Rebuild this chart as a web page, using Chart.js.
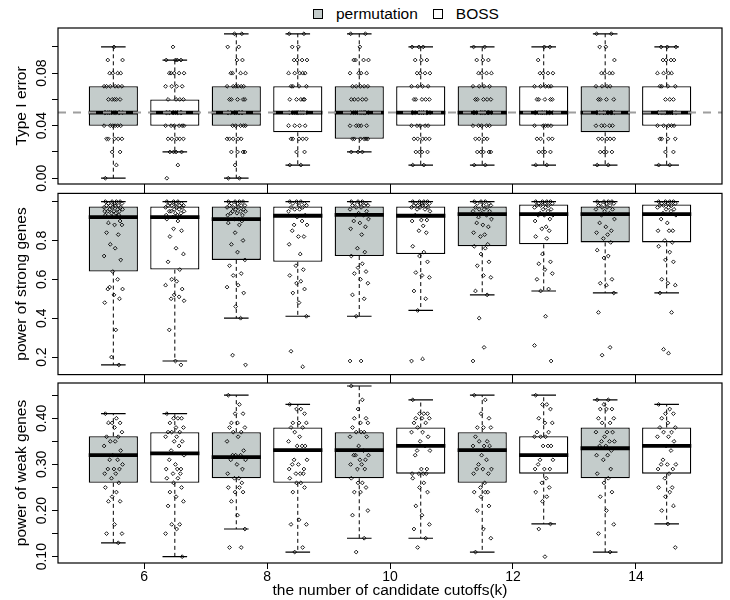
<!DOCTYPE html>
<html>
<head>
<meta charset="utf-8">
<script src="https://cdn.jsdelivr.net/npm/chart.js@4.4.1/dist/chart.umd.min.js"></script>
<style>
  body { margin: 0; background: #fff; }
  #wrap { position: relative; width: 730px; height: 600px; font-family: "Liberation Sans", Arial, sans-serif; }
  #wrap canvas { position: absolute; left: 0; }
  #legend { position: absolute; top: 5px; left: 313px; display: flex; align-items: center; font-size: 15.5px; line-height: 18px; color: #000; }
  #legend .item { display: flex; align-items: center; margin-right: 15px; }
  #legend .sw { width: 8px; height: 8px; border: 1px solid #000; margin-right: 13px; }
</style>
</head>
<body>
<div id="wrap">
  <div id="legend"></div>
  <canvas id="c1" width="730" height="192" style="top:0"></canvas>
  <canvas id="c2" width="730" height="198" style="top:185px"></canvas>
  <canvas id="c3" width="730" height="223" style="top:377px"></canvas>
</div>
<script>
// candidate cutoffs and the two methods (permutation box left of k, BOSS right of k)
const kValues = [6, 8, 10, 12, 14];
const methods = ['permutation', 'BOSS'];
const xTicks = [6, 8, 10, 12, 14];
const xLabels = ['6', '8', '10', '12', '14'];

// box stats per k: [lower whisker, q1, median, q3, upper whisker]
const type1Perm = [[0.00,0.04,0.05,0.07,0.10],[0.00,0.04,0.05,0.07,0.11],[0.02,0.03,0.05,0.07,0.11],[0.01,0.04,0.05,0.07,0.10],[0.01,0.035,0.05,0.07,0.11]];
const type1Boss = [[0.02,0.04,0.05,0.06,0.09],[0.01,0.035,0.05,0.07,0.11],[0.01,0.04,0.05,0.07,0.10],[0.01,0.04,0.05,0.07,0.10],[0.01,0.04,0.05,0.07,0.10]];
// type I error only takes values 0.00..0.11, so points are kept as counts per level
const type1Levels = [0.00,0.01,0.02,0.03,0.04,0.05,0.06,0.07,0.08,0.09,0.10,0.11];
const type1PermCounts = [
  [1,1,2,5,6,10,5,6,4,2,1,0],
  [2,1,4,5,5,10,5,6,4,2,2,2],
  [0,0,3,6,5,10,5,5,4,4,1,2],
  [0,2,5,4,5,12,5,4,4,3,2,0],
  [0,2,4,5,5,12,4,4,4,1,2,2]
];
const type1BossCounts = [
  [1,1,4,5,6,12,4,4,5,4,1,0],
  [0,2,2,5,4,10,5,4,5,4,2,2],
  [0,2,4,5,5,12,5,4,4,3,3,0],
  [0,2,4,4,5,12,5,5,4,1,2,0],
  [0,2,2,4,5,12,3,4,4,4,3,0]
];
const nominalLevel = 0.05;

const strongPerm = [[0.16,0.64,0.92,0.975,1.0],[0.40,0.70,0.91,0.975,1.0],[0.41,0.72,0.932,0.975,1.0],[0.52,0.77,0.935,0.975,1.0],[0.53,0.79,0.935,0.975,1.0]];
const strongBoss = [[0.18,0.65,0.92,0.975,1.0],[0.41,0.69,0.927,0.975,1.0],[0.44,0.73,0.927,0.975,1.0],[0.54,0.78,0.935,0.985,1.0],[0.53,0.79,0.935,0.985,1.0]];
const strongPermPts = [
  [1,1,1,1,0.99,0.99,0.99,0.98,0.98,0.98,0.98,0.97,0.97,0.97,0.96,0.96,0.96,0.95,0.95,0.95,0.95,0.94,0.94,0.93,0.93,0.92,0.92,0.90,0.89,0.88,0.88,0.84,0.83,0.78,0.76,0.72,0.70,0.64,0.60,0.56,0.55,0.55,0.52,0.50,0.48,0.34,0.20,0.16],
  [1,1,1,1,0.99,0.99,0.98,0.98,0.98,0.97,0.97,0.97,0.96,0.96,0.95,0.95,0.95,0.94,0.94,0.93,0.93,0.91,0.91,0.90,0.89,0.88,0.84,0.80,0.78,0.74,0.70,0.67,0.63,0.62,0.57,0.56,0.53,0.46,0.40,0.21,0.16],
  [1,1,1,0.99,0.99,0.99,0.98,0.98,0.98,0.97,0.97,0.96,0.95,0.94,0.93,0.93,0.91,0.90,0.89,0.87,0.86,0.83,0.76,0.74,0.72,0.68,0.66,0.64,0.63,0.60,0.58,0.52,0.50,0.41,0.18,0.18],
  [1,1,1,0.99,0.99,0.98,0.98,0.97,0.97,0.96,0.96,0.95,0.95,0.94,0.93,0.92,0.91,0.89,0.88,0.87,0.84,0.83,0.82,0.78,0.77,0.76,0.73,0.69,0.67,0.62,0.61,0.54,0.52,0.40,0.25,0.18],
  [1,1,1,1,0.99,0.99,0.99,0.98,0.98,0.97,0.97,0.96,0.96,0.95,0.94,0.93,0.91,0.89,0.87,0.85,0.84,0.83,0.81,0.79,0.75,0.72,0.71,0.60,0.58,0.57,0.53,0.43,0.25,0.21]
];
const strongBossPts = [
  [1,1,1,0.99,0.99,0.99,0.98,0.98,0.98,0.98,0.97,0.97,0.97,0.96,0.96,0.95,0.95,0.95,0.94,0.94,0.93,0.93,0.92,0.92,0.91,0.90,0.86,0.85,0.82,0.76,0.73,0.69,0.65,0.60,0.59,0.57,0.55,0.52,0.51,0.50,0.49,0.34,0.18,0.16],
  [1,1,1,0.99,0.99,0.98,0.98,0.97,0.97,0.96,0.96,0.95,0.93,0.92,0.90,0.88,0.88,0.85,0.82,0.82,0.78,0.73,0.67,0.65,0.62,0.59,0.58,0.55,0.53,0.48,0.41,0.23,0.15],
  [1,1,1,1,0.99,0.99,0.99,0.98,0.98,0.98,0.98,0.97,0.97,0.97,0.96,0.96,0.95,0.93,0.905,0.905,0.90,0.875,0.85,0.84,0.77,0.74,0.72,0.69,0.635,0.62,0.61,0.54,0.50,0.44,0.19,0.18],
  [1,1,1,1,0.99,0.99,0.99,0.98,0.98,0.98,0.97,0.97,0.96,0.96,0.95,0.94,0.93,0.93,0.93,0.91,0.90,0.87,0.86,0.85,0.82,0.81,0.73,0.69,0.68,0.65,0.63,0.60,0.55,0.54,0.41,0.26,0.18],
  [1,1,1,1,0.99,0.99,0.99,0.98,0.98,0.98,0.97,0.97,0.96,0.96,0.95,0.94,0.93,0.91,0.89,0.85,0.85,0.85,0.80,0.79,0.77,0.74,0.70,0.69,0.60,0.58,0.57,0.53,0.43,0.24,0.22]
];

const weakPerm = [[0.13,0.26,0.32,0.361,0.41],[0.16,0.27,0.316,0.37,0.45],[0.14,0.27,0.331,0.37,0.47],[0.11,0.26,0.331,0.37,0.45],[0.11,0.27,0.335,0.38,0.44]];
const weakBoss = [[0.10,0.26,0.324,0.37,0.41],[0.11,0.26,0.331,0.38,0.43],[0.14,0.28,0.34,0.38,0.44],[0.171,0.28,0.32,0.361,0.45],[0.171,0.28,0.34,0.38,0.43]];
const weakPermPts = [
  [0.41,0.40,0.39,0.39,0.39,0.38,0.37,0.36,0.36,0.35,0.35,0.34,0.33,0.32,0.31,0.31,0.30,0.29,0.29,0.29,0.28,0.28,0.27,0.26,0.25,0.24,0.23,0.22,0.22,0.17,0.15,0.15,0.13],
  [0.45,0.43,0.41,0.41,0.39,0.39,0.38,0.38,0.37,0.37,0.36,0.35,0.33,0.32,0.32,0.32,0.31,0.31,0.30,0.29,0.28,0.27,0.27,0.26,0.25,0.25,0.24,0.24,0.22,0.19,0.16,0.12,0.12],
  [0.47,0.44,0.42,0.40,0.40,0.39,0.39,0.38,0.37,0.37,0.37,0.36,0.36,0.34,0.33,0.32,0.32,0.32,0.31,0.31,0.30,0.30,0.29,0.29,0.27,0.26,0.26,0.25,0.24,0.24,0.20,0.19,0.14,0.11],
  [0.45,0.44,0.41,0.40,0.38,0.38,0.38,0.36,0.35,0.35,0.34,0.34,0.34,0.32,0.31,0.30,0.29,0.29,0.29,0.28,0.28,0.26,0.25,0.24,0.24,0.24,0.23,0.21,0.20,0.16,0.14,0.11],
  [0.44,0.44,0.43,0.42,0.42,0.42,0.40,0.40,0.39,0.39,0.37,0.37,0.37,0.36,0.35,0.35,0.35,0.34,0.34,0.33,0.32,0.32,0.31,0.29,0.28,0.27,0.26,0.24,0.23,0.20,0.17,0.15,0.11]
];
const weakBossPts = [
  [0.41,0.40,0.40,0.40,0.39,0.38,0.38,0.37,0.37,0.37,0.36,0.36,0.35,0.35,0.34,0.33,0.32,0.31,0.30,0.29,0.29,0.29,0.28,0.28,0.27,0.27,0.26,0.25,0.24,0.23,0.22,0.21,0.17,0.17,0.16,0.15,0.10],
  [0.43,0.42,0.42,0.41,0.39,0.39,0.39,0.38,0.38,0.37,0.36,0.35,0.34,0.34,0.34,0.31,0.31,0.30,0.30,0.29,0.29,0.28,0.28,0.28,0.27,0.26,0.26,0.25,0.24,0.18,0.17,0.17,0.12,0.11],
  [0.44,0.41,0.41,0.41,0.40,0.40,0.40,0.39,0.39,0.38,0.37,0.37,0.36,0.35,0.34,0.33,0.33,0.32,0.29,0.29,0.28,0.28,0.28,0.28,0.27,0.26,0.25,0.24,0.21,0.19,0.17,0.16,0.14,0.12],
  [0.45,0.43,0.43,0.42,0.40,0.39,0.39,0.37,0.37,0.36,0.36,0.36,0.34,0.34,0.34,0.31,0.31,0.30,0.29,0.29,0.29,0.27,0.26,0.25,0.24,0.23,0.22,0.171,0.16,0.10],
  [0.43,0.42,0.41,0.41,0.40,0.39,0.38,0.38,0.37,0.37,0.36,0.36,0.35,0.34,0.33,0.31,0.30,0.30,0.30,0.29,0.29,0.28,0.27,0.25,0.25,0.24,0.23,0.21,0.20,0.171,0.12]
];

// axis ranges and ticks
const xMin = 4.6, xMax = 15.4;
const type1Range = [-0.0044, 0.1144];
const type1Ticks = [0, 0.02, 0.04, 0.06, 0.08, 0.10];
const type1Labels = ['0.00', '', '0.04', '', '0.08', ''];
const strongRange = [0.11, 1.042];
const strongTicks = [0.2, 0.4, 0.6, 0.8, 1.0];
const strongLabels = ['0.2', '0.4', '0.6', '0.8', ''];
const weakRange = [0.0863, 0.4765];
const weakTicks = [0.10, 0.15, 0.20, 0.25, 0.30, 0.35, 0.40, 0.45];
const weakLabels = ['0.10', '', '0.20', '', '0.30', '', '0.40', ''];

const fills = ['rgb(196,204,203)', '#ffffff'];
const jitter = [-0.13, 0.05, -0.02, 0.11, -0.08, 0.02, 0.14, -0.11, 0.08, -0.05, 0.03, -0.15, 0.12, -0.01, 0.07, -0.06, 0.15, -0.09, 0.01, 0.10, -0.14, 0.04, -0.03, 0.09];

Chart.defaults.font.family = '"Liberation Sans", Arial, sans-serif';
Chart.defaults.color = '#000';

const legendEl = document.getElementById('legend');
methods.forEach((m, i) => {
  legendEl.insertAdjacentHTML('beforeend',
    '<span class="item"><span class="sw" style="background:' + fills[i] + '"></span>' + m + '</span>');
});

// segments -> one line dataset with breaks
function segData(segs) {
  const out = [];
  segs.forEach(s => {
    out.push({x: s[0], y: s[1]}, {x: s[2], y: s[3]}, {x: s[2], y: null});
  });
  return out;
}

function lineDs(data, extra) {
  return Object.assign({type: 'line', label: '_', data, borderColor: '#000', pointRadius: 0,
    spanGaps: false, tension: 0, fill: false}, extra);
}

function panelDatasets(stats, points) {
  const ds = [];
  methods.forEach((name, m) => {
    const xs = kValues.map(k => k + (m === 0 ? -0.5 : 0.5));
    const st = stats[m];
    ds.push({
      type: 'bar', label: name,
      data: xs.map((x, i) => ({x, y: [st[i][1], st[i][3]]})),
      backgroundColor: fills[m], borderColor: '#000', borderWidth: 1.3, borderSkipped: false,
      grouped: false, barPercentage: 0.8, categoryPercentage: 1, order: 5
    });
    ds.push(lineDs(segData(xs.map((x, i) => [x - 0.4, st[i][2], x + 0.4, st[i][2]])),
      {borderWidth: 3.8, order: 3}));
    ds.push(lineDs(segData(xs.flatMap((x, i) => [[x, st[i][3], x, st[i][4]], [x, st[i][1], x, st[i][0]]])),
      {borderWidth: 1, borderDash: [4, 3], order: 4}));
    ds.push(lineDs(segData(xs.flatMap((x, i) => [[x - 0.2, st[i][4], x + 0.2, st[i][4]], [x - 0.2, st[i][0], x + 0.2, st[i][0]]])),
      {borderWidth: 1.2, order: 4}));
    ds.push({
      type: 'scatter', label: '_pts',
      data: xs.flatMap((x, i) => points[m][i].map((v, j) => ({x: x + jitter[j % jitter.length], y: v}))),
      pointStyle: 'rectRot', pointRadius: 1.9, borderWidth: 0.9, borderColor: '#000',
      backgroundColor: 'rgba(0,0,0,0)', order: 1
    });
  });
  return ds;
}

function xAxis(position, height, showLabels, title) {
  return {
    type: 'linear', position, min: xMin, max: xMax, offset: false,
    afterBuildTicks: s => { s.ticks = xTicks.map(v => ({value: v})); },
    ticks: {display: showLabels, callback: (v, i) => xLabels[i], font: {size: 14}, padding: 0, maxRotation: 0, autoSkip: false},
    grid: {offset: false, drawOnChartArea: false, drawTicks: true, tickLength: 6, color: '#000', lineWidth: 1},
    border: {display: false},
    title: title ? {display: true, text: title, font: {size: 15.5}, padding: {top: 0, bottom: 0}} : {display: false},
    afterFit: s => { s.height = height; }
  };
}

function yAxis(range, ticks, labels, title, pad) {
  return {
    type: 'linear', position: 'left', min: range[0], max: range[1],
    afterBuildTicks: s => { s.ticks = ticks.map(v => ({value: v})); },
    ticks: {callback: (v, i) => labels[i], minRotation: 90, maxRotation: 90, crossAlign: 'center',
      padding: pad, font: {size: 14}, autoSkip: false},
    grid: {drawOnChartArea: false, drawTicks: true, tickLength: 6, color: '#000', lineWidth: 1},
    border: {display: false},
    title: {display: true, text: title, font: {size: 15.5}, padding: {top: 12, bottom: 0}},
    afterFit: s => { s.width = 58; }
  };
}

const frame = {
  id: 'frame',
  afterDatasetsDraw(chart) {
    const {ctx, chartArea: a} = chart;
    ctx.save();
    ctx.strokeStyle = '#000';
    ctx.lineWidth = 1.2;
    ctx.strokeRect(a.left, a.top, a.right - a.left, a.bottom - a.top);
    ctx.restore();
  }
};

function makeChart(id, datasets, scales, padTop) {
  return new Chart(document.getElementById(id), {
    type: 'bar',
    data: {datasets},
    options: {
      responsive: false, animation: false,
      layout: {padding: {top: padTop, right: 8, left: 0, bottom: 0}},
      plugins: {legend: {display: false}, tooltip: {enabled: false}},
      scales
    },
    plugins: [frame]
  });
}

// panel 1: type I error with the nominal level
const type1Pts = [type1PermCounts, type1BossCounts].map(cs =>
  cs.map(c => type1Levels.flatMap((lv, i) => Array(c[i]).fill(lv))));
const ds1 = panelDatasets([type1Perm, type1Boss], type1Pts);
ds1.push(lineDs([{x: xMin, y: nominalLevel}, {x: xMax, y: nominalLevel}],
  {borderColor: '#9e9e9e', borderWidth: 2, borderDash: [8, 7], order: 0}));
makeChart('c1', ds1, {
  x: xAxis('bottom', 8, false, null),
  y: yAxis(type1Range, type1Ticks, type1Labels, 'Type I error', -4)
}, 28);

// panel 2: power of strong genes
makeChart('c2', panelDatasets([strongPerm, strongBoss], [strongPermPts, strongBossPts]), {
  x: xAxis('bottom', 6, false, null),
  x2: xAxis('top', 6, false, null),
  y: yAxis(strongRange, strongTicks, strongLabels, 'power of strong genes', 0)
}, 0);

// panel 3: power of weak genes
makeChart('c3', panelDatasets([weakPerm, weakBoss], [weakPermPts, weakBossPts]), {
  x: xAxis('bottom', 37, true, 'the number of candidate cutoffs(k)'),
  x2: xAxis('top', 6, false, null),
  y: yAxis(weakRange, weakTicks, weakLabels, 'power of weak genes', -4)
}, 0);
</script>
</body>
</html>
